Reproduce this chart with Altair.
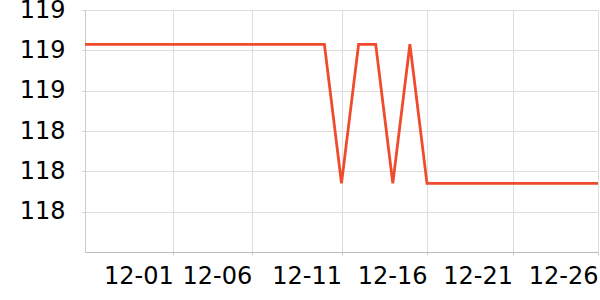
import altair as alt
import pandas as pd

# Data
dates = pd.date_range("2023-11-26", "2023-12-26", freq="D").strftime("%Y-%m-%d").tolist()
HIGH = 118.83
LOW = 118.14
values = [HIGH] * 15 + [LOW, HIGH, HIGH, LOW, HIGH] + [LOW] * 11

y_ticks = [118.0, 118.2, 118.4, 118.6, 118.8, 119.0]
# tick positions (days after 2023-11-26) where labels sit
tick_offsets_days = [5.16, 9.75, 15, 20, 25, 30]
start_ms = pd.Timestamp("2023-11-26", tz="UTC").value // 10**6
x_ticks = [start_ms + int(d * 86400000) for d in tick_offsets_days]

df = pd.DataFrame({"date": dates, "value": values})

chart = (
    alt.Chart(df)
    .mark_line(color="#ef4c2d", strokeWidth=2.8, strokeJoin="miter")
    .encode(
        x=alt.X(
            "date:T",
            scale=alt.Scale(type="utc", nice=False),
            axis=alt.Axis(
                title=None,
                values=x_ticks,
                labelExpr="utcFormat(time(datum.value) + 43200000, '%m-%d')",
                labelAlign="right",
                labelBaseline="top",
                labelPadding=9,
                tickSize=3,
                labelFlush=False,
                labelOverlap=False,
            ),
        ),
        y=alt.Y(
            "value:Q",
            scale=alt.Scale(domain=[117.8, 119.0], nice=False, zero=False),
            axis=alt.Axis(
                title=None,
                values=y_ticks,
                labelExpr="format(datum.value, '.0f')",
                tickSize=3,
                labelPadding=17,
                labelFlush=False,
                labelOverlap=False,
            ),
        ),
    )
    .properties(
        width=513,
        height=242,
        autosize=alt.AutoSizeParams(type="none"),
        padding={"left": 85, "top": 10, "right": 2, "bottom": 48},
    )
    .configure_view(stroke=None)
    .configure_axis(
        labelFont="DejaVu Sans",
        labelFontSize=24,
        labelColor="#000000",
        gridColor="#dddddd",
        gridWidth=1,
        domainColor="#cccccc",
        tickColor="#cccccc",
    )
    .configure_axisX(domainColor="#bbbbbb")
)

chart.save("out.html", embed_options={"renderer": "svg", "actions": False})
